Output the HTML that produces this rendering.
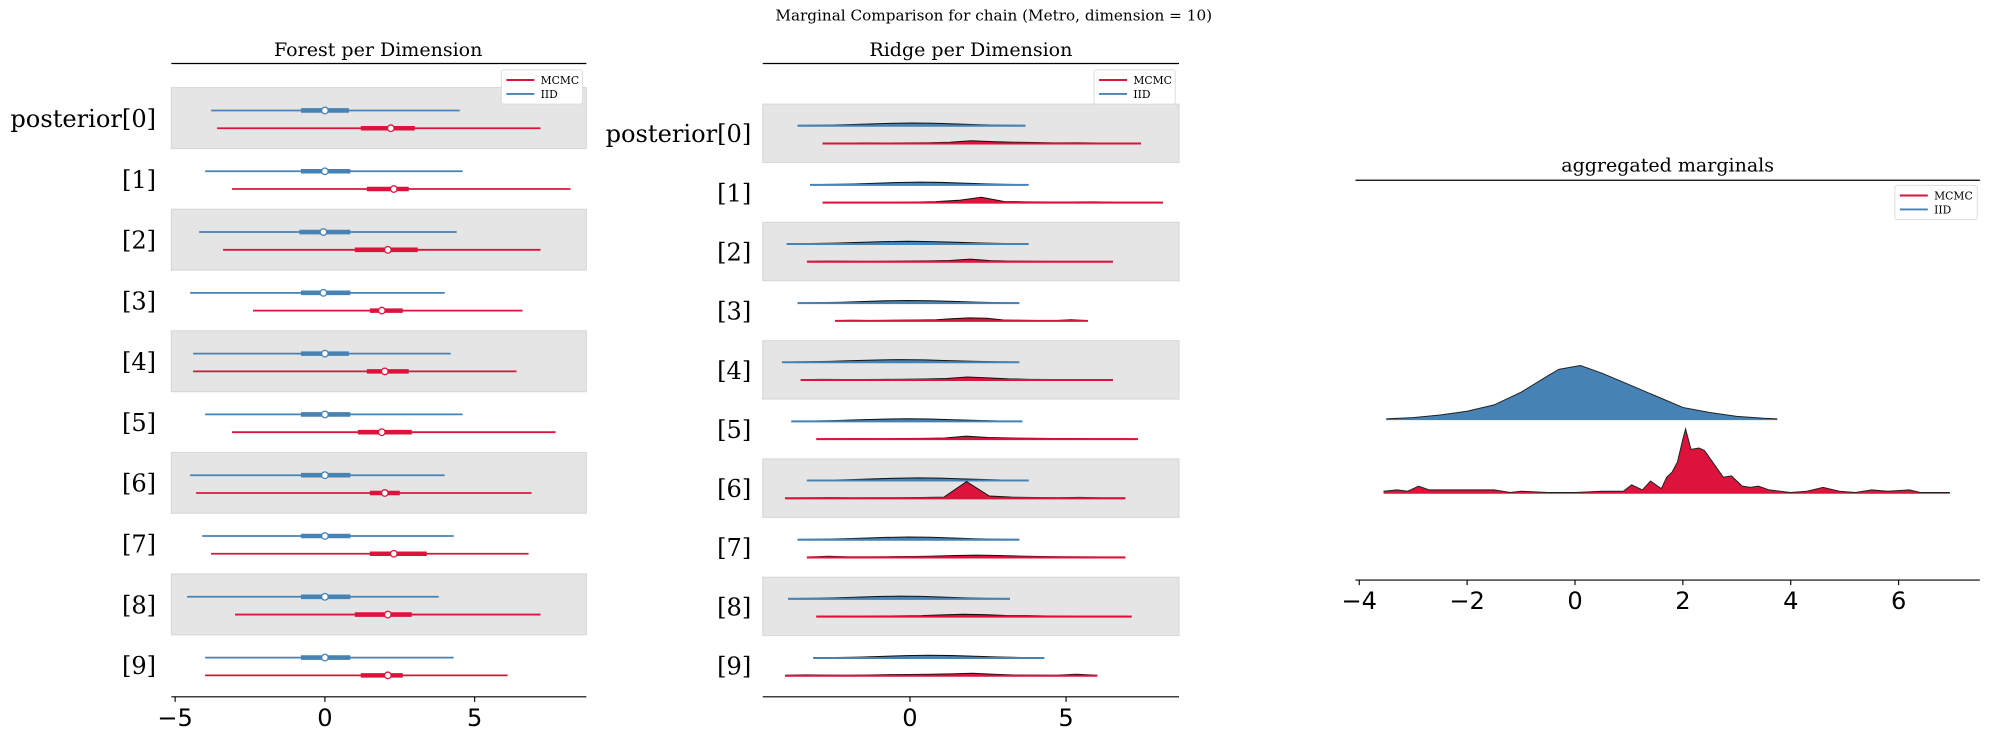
<!DOCTYPE html>
<html><head><meta charset="utf-8"><style>
html,body{margin:0;padding:0;background:#fff;}
svg{display:block;}
text{font-family:"DejaVu Serif","Liberation Serif",serif;fill:#000;}
.tick{font-family:"DejaVu Sans","Liberation Sans",sans-serif;font-size:19px;}
</style></head><body>
<svg id="fig" width="1990" height="740" viewBox="0 0 1568 583" xmlns="http://www.w3.org/2000/svg">
<text x="783" y="16" text-anchor="middle" font-size="12">Marginal Comparison for chain (Metro, dimension = 10)</text>
<g id="forest"></g>
<g id="ridge"></g>
<g id="agg"></g>
</svg>
<script>
// ---- data ----
const rowLabels = ["posterior[0]","[1]","[2]","[3]","[4]","[5]","[6]","[7]","[8]","[9]"];
const iidLo  = [-3.8,-4.0,-4.2,-4.5,-4.4,-4.0,-4.5,-4.1,-4.6,-4.0];
const iidHi  = [4.5,4.6,4.4,4.0,4.2,4.6,4.0,4.3,3.8,4.3];
const iidQ1  = [-0.8,-0.8,-0.85,-0.8,-0.8,-0.8,-0.8,-0.8,-0.8,-0.8];
const iidQ3  = [0.8,0.85,0.85,0.85,0.8,0.85,0.85,0.85,0.85,0.85];
const iidMed = [0,0,-0.05,-0.05,0,0,0,0,0,0];
const mcLo   = [-3.6,-3.1,-3.4,-2.4,-4.4,-3.1,-4.3,-3.8,-3.0,-4.0];
const mcHi   = [7.2,8.2,7.2,6.6,6.4,7.7,6.9,6.8,7.2,6.1];
const mcQ1   = [1.2,1.4,1.0,1.5,1.4,1.1,1.5,1.5,1.0,1.2];
const mcQ3   = [3.0,2.8,3.1,2.6,2.8,2.9,2.5,3.4,2.9,2.6];
const mcMed  = [2.2,2.3,2.1,1.9,2.0,1.9,2.0,2.3,2.1,2.1];

const ridgeIidLo = [-3.6,-3.2,-3.95,-3.6,-4.1,-3.8,-3.3,-3.6,-3.9,-3.1];
const ridgeIidHi = [3.7,3.8,3.8,3.5,3.5,3.6,3.8,3.5,3.2,4.3];
const ridgeIidShape = [0.2,0.5,1,1.8,2.6,3,2.7,1.9,1.1,0.5,0.2];
const ridgeMcLo = [-2.8,-2.8,-3.3,-2.4,-3.5,-3.0,-4.0,-3.3,-3.0,-4.0];
const ridgeMcHi = [7.4,8.1,6.5,5.7,6.5,7.3,6.9,6.9,7.1,6.0];
const ridgeMc = [
 [0.5,0.5,0.8,0.6,0.8,1,1.6,3.5,2.4,1.6,1.2,0.8,1,0.6,0.5,0.5],
 [0.3,0.4,0.5,0.4,0.6,1.2,3,7,1.5,1,0.8,0.7,0.9,0.5,0.4,0.3],
 [0.5,0.8,0.6,0.5,0.7,0.9,1.2,1.6,3.5,1.5,0.8,0.6,0.5,0.5,0.4,0.4],
 [0.4,0.8,0.5,0.7,1,1.2,1.5,3,4,3.5,1.2,0.8,0.5,0.4,1.5,0.4],
 [0.5,0.9,0.6,0.7,0.9,1,1.3,2,4,2.8,1.5,0.9,0.7,0.5,0.5,0.4],
 [0.4,0.6,0.7,0.5,0.8,1,1.6,4,2.2,1.5,1.2,0.8,0.9,0.6,0.5,0.4],
 [0.4,0.6,0.9,0.6,0.7,0.8,1,1.5,22,3,1.5,1,0.7,1.2,0.6,0.5],
 [0.5,1.5,0.7,0.8,1,1.3,1.8,2.6,3,2.5,1.8,1.2,0.9,0.7,0.6,0.5],
 [0.4,0.6,0.5,0.7,0.9,1.2,2.2,3,2.5,1.4,1.2,0.8,0.6,0.5,0.4,0.4],
 [0.6,1.2,0.8,0.7,1,1.4,1.6,2,2.4,3.2,2,1,0.8,0.6,2,0.6]
];

const aggIidX = [-3.5,-3,-2.5,-2,-1.5,-1,-0.5,-0.3,0.1,0.5,1,1.5,2,2.5,3,3.5,3.75];
const aggIidY = [1,2,4,7,12,22,35,40,43,37,28,19,10,6,3,1.5,1];
const aggMcX = [-3.55,-3.3,-3.1,-2.9,-2.7,-2.5,-2,-1.5,-1.2,-1,-0.5,0,0.5,0.9,1.05,1.25,1.4,1.6,1.7,1.8,1.9,2.0,2.05,2.15,2.3,2.4,2.6,2.75,2.9,3.1,3.25,3.4,3.6,4.0,4.3,4.6,4.9,5.2,5.5,5.8,6.2,6.4,6.7,6.95];
const aggMcY = [2,3,2,6,3,3,3,3,1,2,1,1,2,2,7,3,10,4,13,17,25,43,51,35,36,34,22,13,14,6,5,6,3,1,2,5,2,1,3,2,3,1,1,1];
const xTicksForest = [-5,0,5];
const xTicksRidge = [0,5];
const xTicksAgg = [-4,-2,0,2,4,6];

const BLUE="#4682b4", RED="#dc143c", NS="http://www.w3.org/2000/svg";
function mk(parent,tag,attrs,name,inter){
  const e=document.createElementNS(NS,tag);
  for(const k in attrs) e.setAttribute(k,attrs[k]);
  
  
  parent.appendChild(e); return e;
}
function txt(parent,x,y,s,size,anchor,name,cls){
  const t=mk(parent,'text',{x:x,y:y,'font-size':size,'text-anchor':anchor||'middle'},name,false);
  if(cls) t.setAttribute('class',cls);
  t.textContent=s; return t;
}
function legend(g,x,y,w){
  const lg=mk(g,'g',{},'legend',false);
  mk(lg,'rect',{x:x,y:y,width:w,height:27,fill:'#fff',stroke:'#ddd','stroke-width':0.8,rx:2},'legend-box',false);
  mk(lg,'line',{x1:x+4,x2:x+26,y1:y+8,y2:y+8,stroke:RED,'stroke-width':1.5},'legend-mcmc-swatch',false);
  txt(lg,x+31,y+11,'MCMC',8.5,'start','legend-mcmc-label');
  mk(lg,'line',{x1:x+4,x2:x+26,y1:y+19,y2:y+19,stroke:BLUE,'stroke-width':1.5},'legend-iid-swatch',false);
  txt(lg,x+31,y+22,'IID',8.5,'start','legend-iid-label');
}
function xaxis(g,x0,x1,y,ticks,sx,pre){
  mk(g,'line',{x1:x0,x2:x1,y1:y,y2:y,stroke:'#000','stroke-width':0.9},pre+'-x-axis',false);
  ticks.forEach(t=>{
    mk(g,'line',{x1:sx(t),x2:sx(t),y1:y,y2:y+4,stroke:'#000','stroke-width':0.9},pre+'-x-tick',false);
    txt(g,sx(t),y+23,(t<0?'\u2212':'')+Math.abs(t),19,'middle',pre+'-x-tick-label','tick');
  });
}

// ---- forest ----
(function(){
  const g=document.getElementById('forest');
  const sx=v=>256+23.6*v, cy=i=>93+47.9*i;
  txt(g,298,44,'Forest per Dimension',15,'middle','forest-title');
  mk(g,'line',{x1:135,x2:462,y1:50,y2:50,stroke:'#000','stroke-width':1},'forest-title-rule',false);
  rowLabels.forEach((l,i)=>{ if(i%2===0) mk(g,'rect',{x:135,y:cy(i)-24,width:327,height:48,fill:'#e5e5e5',stroke:'#d6d6d6','stroke-width':0.8},'forest-row-band',false); });
  rowLabels.forEach((l,i)=>{
    txt(g,123,cy(i)+7,l,19,'end','forest-row-label');
    const yb=cy(i)-6, yr=cy(i)+8;
    mk(g,'line',{x1:sx(iidLo[i]),x2:sx(iidHi[i]),y1:yb,y2:yb,stroke:BLUE,'stroke-width':1.4},'forest-iid-interval',false);
    mk(g,'line',{x1:sx(iidQ1[i]),x2:sx(iidQ3[i]),y1:yb,y2:yb,stroke:BLUE,'stroke-width':3.6},'forest-iid-iqr',false);
    mk(g,'circle',{cx:sx(iidMed[i]),cy:yb,r:2.6,fill:'#fff',stroke:BLUE,'stroke-width':1},'forest-iid-median',false);
    mk(g,'line',{x1:sx(mcLo[i]),x2:sx(mcHi[i]),y1:yr,y2:yr,stroke:RED,'stroke-width':1.4},'forest-mcmc-interval',false);
    mk(g,'line',{x1:sx(mcQ1[i]),x2:sx(mcQ3[i]),y1:yr,y2:yr,stroke:RED,'stroke-width':3.6},'forest-mcmc-iqr',false);
    mk(g,'circle',{cx:sx(mcMed[i]),cy:yr,r:2.6,fill:'#fff',stroke:RED,'stroke-width':1},'forest-mcmc-median',false);
  });
  legend(g,395,55,64);
  xaxis(g,135,462,549,xTicksForest,sx,'forest');
})();

// ---- ridge ----
(function(){
  const g=document.getElementById('ridge');
  const sx=v=>717+24.6*v, cy=i=>105+46.6*i;
  txt(g,765,44,'Ridge per Dimension',15,'middle','ridge-title');
  mk(g,'line',{x1:601,x2:929,y1:50,y2:50,stroke:'#000','stroke-width':1},'ridge-title-rule',false);
  rowLabels.forEach((l,i)=>{ if(i%2===0) mk(g,'rect',{x:601,y:cy(i)-23,width:328,height:46,fill:'#e5e5e5',stroke:'#d6d6d6','stroke-width':0.8},'ridge-row-band',false); });
  function ridge(lo,hi,hs,base,col,scale,name){
    const n=hs.length; let pts=[];
    hs.forEach((h,k)=>{ pts.push(sx(lo+(hi-lo)*k/(n-1)).toFixed(2)+','+(base-h*scale).toFixed(2)); });
    mk(g,'polygon',{points:sx(lo)+','+base+' '+pts.join(' ')+' '+sx(hi)+','+base,fill:col,stroke:'none'},name+'-fill',false);
    mk(g,'polyline',{points:pts.join(' '),fill:'none',stroke:'#111','stroke-width':0.8},name+'-outline',false);
    mk(g,'line',{x1:sx(lo),x2:sx(hi),y1:base,y2:base,stroke:col,'stroke-width':1.6},name+'-baseline',false);
  }
  rowLabels.forEach((l,i)=>{
    txt(g,592,cy(i)+7,l,19,'end','ridge-row-label');
    ridge(ridgeIidLo[i],ridgeIidHi[i],ridgeIidShape,cy(i)-6,BLUE,0.7,'ridge-iid');
    ridge(ridgeMcLo[i],ridgeMcHi[i],ridgeMc[i],cy(i)+8,RED,0.6,'ridge-mcmc');
  });
  legend(g,862,55,64);
  xaxis(g,601,929,549,xTicksRidge,sx,'ridge');
})();

// ---- aggregated ----
(function(){
  const g=document.getElementById('agg');
  const sx=v=>1241+42.5*v;
  txt(g,1314,135,'aggregated marginals',15,'middle','agg-title');
  mk(g,'line',{x1:1068,x2:1560,y1:142,y2:142,stroke:'#000','stroke-width':1},'agg-title-rule',false);
  function dens(xs,ys,base,col,name){
    const pts=xs.map((x,k)=>sx(x).toFixed(2)+','+(base-ys[k]).toFixed(2));
    mk(g,'polygon',{points:sx(xs[0])+','+base+' '+pts.join(' ')+' '+sx(xs[xs.length-1])+','+base,fill:col},name+'-fill',false);
    mk(g,'polyline',{points:pts.join(' '),fill:'none',stroke:'#222','stroke-width':0.8},name+'-outline',false);
  }
  dens(aggIidX,aggIidY,331,BLUE,'agg-iid-density');
  dens(aggMcX,aggMcY,389,RED,'agg-mcmc-density');
  legend(g,1493,146,65);
  xaxis(g,1068,1560,457,xTicksAgg,sx,'agg');
})();
</script>
</body></html>
